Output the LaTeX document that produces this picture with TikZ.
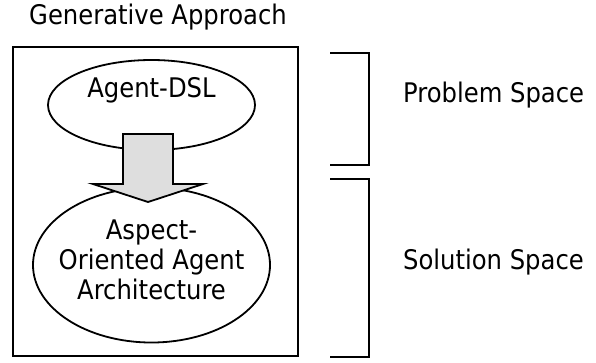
\documentclass[tikz,border=0pt]{standalone}
\usepackage{fontspec}
\setmainfont{DejaVu Sans Condensed}
\usetikzlibrary{shapes.geometric}
\begin{document}
\begin{tikzpicture}[x=1pt,y=-1pt,
  lbl/.style={inner sep=0pt,align=center,font=\fontsize{27}{30}\selectfont},
  oval/.style={draw,line width=1.8pt,ellipse,inner sep=0pt},
  frame/.style={draw,line width=1.8pt},
  brk/.style={draw,line width=1.8pt},
  bigarrow/.style={draw,line width=1.8pt,fill=black!13,line join=miter}]
\useasboundingbox (0,0) rectangle (596,362);
\node[lbl] (title) at (158,17) {Generative Approach};
\draw[frame] (13,47) rectangle (298,356);
\node[oval,minimum width=207pt,minimum height=90pt] (dsl) at (151.5,105) {};
\node[lbl] (dsltext) at (151.5,90) {Agent-DSL};
\node[oval,minimum width=237pt,minimum height=155pt] (aoa) at (151.5,265) {};
\node[lbl] (aoatext) at (151.5,260) {Aspect-\\Oriented Agent\\Architecture};
\draw[bigarrow] (123,134) -- (173,134) -- (173,184) -- (203,184) -- (148,202) -- (93,184) -- (123,184) -- cycle;
\coordinate (b1a) at (330,53);
\coordinate (b1b) at (369,53);
\coordinate (b1c) at (369,165);
\coordinate (b1d) at (330,165);
\draw[brk] (b1a) -- (b1b) -- (b1c) -- (b1d);
\coordinate (b2a) at (330,179);
\coordinate (b2b) at (369,179);
\coordinate (b2c) at (369,357);
\coordinate (b2d) at (330,357);
\draw[brk] (b2a) -- (b2b) -- (b2c) -- (b2d);
\node[lbl,anchor=west] (ps) at (403,95) {Problem Space};
\node[lbl,anchor=west] (ss) at (403,262) {Solution Space};
\end{tikzpicture}
\end{document}
